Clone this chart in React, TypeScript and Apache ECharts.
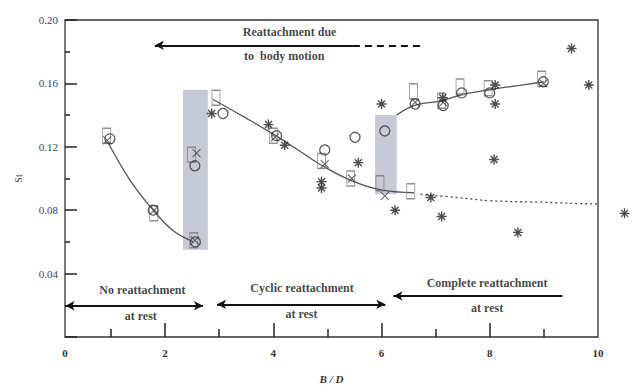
import React, { useEffect, useRef } from "react";
import * as echarts from "echarts";

// Open rectangles
const squareX = [0.92, 1.79, 2.53, 2.49, 2.94, 4.0, 4.89, 5.43, 5.97, 6.54, 6.59, 7.11, 7.45, 7.97, 8.96];
const squareY = [0.127, 0.078, 0.061, 0.115, 0.151, 0.127, 0.111, 0.100, 0.097, 0.092, 0.155, 0.149, 0.158, 0.157, 0.163];
// Open circles
const circleX = [0.98, 1.78, 2.56, 2.55, 3.07, 4.06, 4.95, 5.51, 6.06, 6.62, 7.14, 7.48, 8.0, 8.99];
const circleY = [0.125, 0.080, 0.060, 0.108, 0.141, 0.127, 0.118, 0.126, 0.130, 0.147, 0.146, 0.154, 0.154, 0.161];
// Crosses
const crossX = [0.93, 1.8, 2.55, 2.58, 4.03, 4.95, 5.45, 6.06, 6.62, 7.14, 8.99];
const crossY = [0.124, 0.080, 0.061, 0.116, 0.126, 0.109, 0.100, 0.089, 0.148, 0.148, 0.160];
// Asterisks
const starX = [2.86, 3.91, 4.21, 4.89, 4.89, 5.57, 6.0, 6.25, 6.91, 7.11, 7.13, 8.1, 8.1, 8.08, 8.52, 9.51, 9.83, 10.49];
const starY = [0.141, 0.134, 0.121, 0.098, 0.094, 0.110, 0.147, 0.080, 0.088, 0.076, 0.151, 0.159, 0.147, 0.112, 0.066, 0.182, 0.159, 0.078];

// Fitted curves
const curve1X = [0.94, 1.35, 1.78, 2.15, 2.52];
const curve1Y = [0.123, 0.099, 0.080, 0.067, 0.060];
const curve2X = [2.88, 3.45, 4.0, 4.5, 4.86, 5.42, 5.97, 6.6];
const curve2Y = [0.150, 0.139, 0.128, 0.117, 0.109, 0.099, 0.093, 0.091];
const curve3X = [6.28, 6.6, 7.1, 7.5, 8.0, 9.0];
const curve3Y = [0.140, 0.146, 0.149, 0.153, 0.156, 0.161];
const dottedX = [6.72, 7.4, 8.0, 9.0, 10.0, 10.7];
const dottedY = [0.090, 0.088, 0.086, 0.085, 0.084, 0.084];

// Shaded bands [x0, x1, yTop, yBottom]
const bandX0 = [2.33, 5.88];
const bandX1 = [2.79, 6.28];
const bandTop = [0.156, 0.140];
const bandBottom = [0.055, 0.090];

// Annotations
const noteText = ["Reattachment due", "to  body motion", "No reattachment", "at rest", "Cyclic reattachment", "at rest", "Complete reattachment", "at rest"];
const noteX = [4.3, 4.2, 1.58, 1.55, 4.53, 4.52, 7.95, 7.95];
const noteY = [0.1923, 0.1776, 0.0298, 0.013, 0.031, 0.0146, 0.034, 0.018];

// Arrows
const arrowX0 = [5.47, 0.16, 2.96, 6.22];
const arrowX1 = [1.81, 2.70, 6.07, 9.34];
const arrowY0 = [0.184, 0.0197, 0.0206, 0.0259];
const arrowY1 = [0.184, 0.0197, 0.0206, 0.0259];
const arrowHeadStart = [false, true, true, true];
const arrowHeadEnd = [true, true, true, false];
const dashX = [5.47, 6.77];
const dashY = [0.184, 0.184];

const xLabelValues = [0.15, 2, 4, 6, 8, 10];
const xMinorTicks = [1, 3, 5, 7, 9];
const xMajorTicks = [2, 4, 6, 8];

const zip = (xs: number[], ys: number[]) => xs.map((x, i) => [x, ys[i]]);

const SERIF = "'Liberation Serif', 'DejaVu Serif', serif";
const STAR = "path://M0,-10L0,10M-10,0L10,0M-7,-7L7,7M-7,7L7,-7";
const CROSS = "path://M-10,-10L10,10M-10,10L10,-10";

export default function App() {
  const ref = useRef<HTMLDivElement>(null);
  useEffect(() => {
    if (!ref.current) return;
    const chart = echarts.init(ref.current, undefined, { renderer: "svg" });

    const arrowLines = arrowX0.map((x0, i) => [
      { coord: [x0, arrowY0[i]], symbol: arrowHeadStart[i] ? "arrow" : "none", symbolSize: [7, 9] },
      { coord: [arrowX1[i], arrowY1[i]], symbol: arrowHeadEnd[i] ? "arrow" : "none", symbolSize: [7, 9] },
    ]);
    const dashLine = [
      [
        { coord: [dashX[0], dashY[0]], symbol: "none" },
        { coord: [dashX[1], dashY[1]], symbol: "none", lineStyle: { type: [7, 5], width: 2 } },
      ],
    ];

    const curveStyle = { color: "#555", width: 1.3 };

    chart.setOption({
      animation: false,
      backgroundColor: "#fff",
      grid: { left: 65, top: 20, right: 37, bottom: 42, show: true, borderColor: "#333", borderWidth: 1.3 },
      xAxis: [
        {
          type: "value",
          min: 0.15,
          max: 10,
          name: "B / D",
          nameLocation: "middle",
          nameGap: 36,
          nameTextStyle: { fontFamily: SERIF, fontStyle: "italic", fontWeight: "bold", fontSize: 11, color: "#333", verticalAlign: "top" },
          axisLine: { show: false },
          splitLine: { show: false },
          axisTick: { show: true, inside: true, length: 8, customValues: xMinorTicks, lineStyle: { color: "#222", width: 1.5 } },
          axisLabel: {
            customValues: xLabelValues,
            formatter: (v: number) => (v < 1 ? "0" : String(v)),
            fontFamily: SERIF,
            fontWeight: "bold",
            fontSize: 11,
            color: "#333",
            margin: 10,
          },
        },
        {
          type: "value",
          min: 0.15,
          max: 10,
          position: "bottom",
          axisLine: { show: false },
          splitLine: { show: false },
          axisLabel: { show: false },
          axisTick: { show: true, inside: true, length: 14, customValues: xMajorTicks, lineStyle: { color: "#222", width: 1.5 } },
        },
      ],
      yAxis: {
        type: "value",
        min: 0,
        max: 0.2,
        interval: 0.04,
        name: "St",
        nameLocation: "middle",
        nameGap: 42,
        nameTextStyle: { fontFamily: SERIF, fontSize: 10, color: "#333" },
        axisLine: { show: false },
        splitLine: { show: false },
        axisTick: { show: true, inside: true, length: 12, lineStyle: { color: "#222", width: 1.5 } },
        minorTick: { show: true, splitNumber: 2, length: 5, lineStyle: { color: "#222", width: 1.5 } },
        axisLabel: {
          formatter: (v: number) => (v === 0 ? "" : v.toFixed(2)),
          fontFamily: SERIF,
          fontSize: 11,
          color: "#444",
          margin: 7,
        },
      },
      series: [
        {
          type: "line",
          data: [],
          z: 1,
          markArea: {
            silent: true,
            itemStyle: { color: "#c6cad6" },
            data: bandX0.map((x0, i) => [{ coord: [x0, bandTop[i]] }, { coord: [bandX1[i], bandBottom[i]] }]),
          },
        },
        { type: "line", data: zip(curve1X, curve1Y), smooth: 0.35, showSymbol: false, lineStyle: curveStyle, z: 2 },
        { type: "line", data: zip(curve2X, curve2Y), smooth: 0.4, showSymbol: false, lineStyle: curveStyle, z: 2 },
        { type: "line", data: zip(curve3X, curve3Y), smooth: 0.4, showSymbol: false, lineStyle: curveStyle, z: 2 },
        {
          type: "line",
          data: zip(dottedX, dottedY),
          smooth: 0.4,
          showSymbol: false,
          clip: false,
          lineStyle: { color: "#444", width: 1.3, type: [2, 3] },
          z: 2,
        },
        {
          type: "scatter",
          data: zip(squareX, squareY),
          symbol: "rect",
          symbolSize: [8, 15],
          itemStyle: { color: "transparent", borderColor: "#777", borderWidth: 1.1 },
          z: 3,
        },
        {
          type: "scatter",
          data: zip(circleX, circleY),
          symbol: "circle",
          symbolSize: 10,
          itemStyle: { color: "transparent", borderColor: "#333", borderWidth: 1.3 },
          z: 4,
        },
        {
          type: "scatter",
          data: zip(crossX, crossY),
          symbol: CROSS,
          symbolSize: 8,
          itemStyle: { color: "transparent", borderColor: "#444", borderWidth: 1.1 },
          z: 4,
        },
        {
          type: "scatter",
          data: zip(starX, starY),
          symbol: STAR,
          symbolSize: 10,
          clip: false,
          itemStyle: { color: "transparent", borderColor: "#222", borderWidth: 1.4 },
          z: 4,
        },
        {
          type: "scatter",
          data: noteX.map((x, i) => [x, noteY[i], noteText[i]]),
          symbolSize: 0,
          z: 5,
          silent: true,
          label: {
            show: true,
            position: "inside",
            formatter: (p: any) => p.value[2],
            fontFamily: SERIF,
            fontWeight: "bold",
            fontSize: 12,
            color: "#111",
          },
        },
        {
          type: "line",
          data: [],
          z: 5,
          markLine: {
            silent: true,
            label: { show: false },
            lineStyle: { color: "#111", width: 2, type: "solid" },
            data: [...arrowLines, ...dashLine],
          },
        },
      ],
    });
    return () => chart.dispose();
  }, []);
  return <div ref={ref} style={{ width: 635, height: 389, position: "absolute", left: 0, top: 0 }} />;
}
